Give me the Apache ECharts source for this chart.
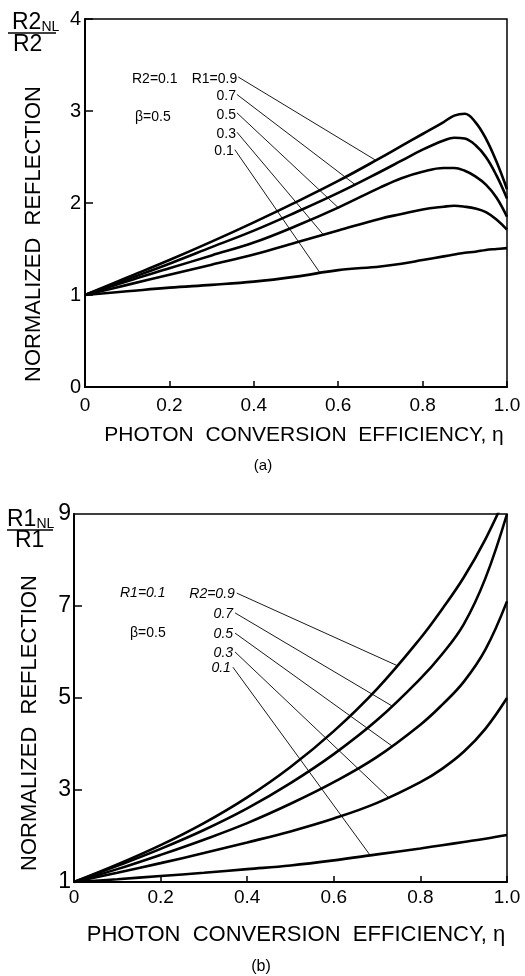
<!DOCTYPE html>
<html>
<head>
<meta charset="utf-8">
<script src="https://cdn.jsdelivr.net/npm/echarts@6/dist/echarts.min.js"></script>
<style>
html,body{margin:0;padding:0;background:#fff;}
#c{width:525px;height:976px;}
</style>
</head>
<body>
<div id="c"></div>
<script>
// ---------- DATA ----------
// (a) top panel: R2 = 0.1, beta = 0.5, curves for R1
const etaTop = [0,0.1,0.2,0.3,0.4,0.5,0.6,0.7,0.75,0.8,0.85,0.875,0.9,0.925,0.95,0.975,1.0];
const topR1_09 = [1,1.19,1.38,1.58,1.79,2.01,2.24,2.49,2.62,2.75,2.88,2.95,2.97,2.88,2.70,2.45,2.15];
const topR1_07 = [1,1.17,1.34,1.52,1.70,1.90,2.11,2.34,2.46,2.58,2.68,2.71,2.70,2.63,2.50,2.30,2.05];
const topR1_05 = [1,1.15,1.29,1.43,1.57,1.75,1.95,2.17,2.27,2.34,2.38,2.38,2.35,2.29,2.20,2.06,1.85];
const topR1_03 = [1,1.11,1.22,1.33,1.44,1.57,1.70,1.83,1.88,1.93,1.96,1.97,1.96,1.94,1.90,1.82,1.71];
const topR1_01 = [1,1.04,1.08,1.11,1.145,1.20,1.27,1.31,1.34,1.38,1.42,1.44,1.46,1.47,1.49,1.50,1.51];
const topSeries = [topR1_09, topR1_07, topR1_05, topR1_03, topR1_01];
const topLabels = ['R1=0.9','0.7','0.5','0.3','0.1'];
const topLeaders = [
  [[0.363,3.37],[0.687,2.47]],
  [[0.360,3.18],[0.640,2.20]],
  [[0.360,2.98],[0.600,1.95]],
  [[0.360,2.77],[0.564,1.66]],
  [[0.355,2.58],[0.557,1.24]]
];
// (b) bottom panel: R1 = 0.1, beta = 0.5, curves for R2
const etaBot = [0,0.1,0.2,0.3,0.4,0.5,0.6,0.7,0.8,0.85,0.9,0.95,1.0];
const botR2_09 = [1,1.38,1.80,2.28,2.84,3.50,4.28,5.20,6.30,6.93,7.62,8.45,9.45];
const botR2_07 = [1,1.35,1.72,2.13,2.60,3.15,3.78,4.52,5.42,5.95,6.60,7.60,9.00];
const botR2_05 = [1,1.28,1.59,1.92,2.28,2.70,3.17,3.72,4.42,4.85,5.35,6.05,7.10];
const botR2_03 = [1,1.20,1.41,1.63,1.86,2.10,2.38,2.72,3.17,3.46,3.83,4.33,5.00];
const botR2_01 = [1,1.06,1.13,1.20,1.28,1.36,1.47,1.60,1.73,1.80,1.87,1.94,2.02];
const botSeries = [botR2_09, botR2_07, botR2_05, botR2_03, botR2_01];
const botLabels = ['R2=0.9','0.7','0.5','0.3','0.1'];
const botLeaders = [
  [[0.376,7.28],[0.745,5.71]],
  [[0.372,6.85],[0.734,4.83]],
  [[0.372,6.41],[0.734,3.96]],
  [[0.372,6.00],[0.726,2.84]],
  [[0.367,5.67],[0.684,1.58]]
];
const xTicks = [0,0.2,0.4,0.6,0.8,1.0];
const topYTicks = [0,1,2,3,4];
const botYLabels = [1,3,5,7,9];
const botYTicks = [3,5,7];
const xTitle = 'PHOTON  CONVERSION  EFFICIENCY, η';
const yTitle = 'NORMALIZED  REFLECTION';

// ---------- CHART ----------
const FONT = '"Liberation Sans", Arial, sans-serif';
const chart = echarts.init(document.getElementById('c'), null, {renderer:'canvas'});

function zip(xs, ys){ return xs.map((x,i)=>[x,ys[i]]); }

function xAxisCfg(gi, margin){
  return {
    type:'value', gridIndex:gi, min:0, max:1, interval:0.2,
    axisLine:{show:true, onZero:false, lineStyle:{color:'#000', width:2}},
    axisTick:{show:true, inside:true, length:6, lineStyle:{color:'#000', width:1.5}},
    axisLabel:{color:'#000', fontSize:19, fontFamily:FONT, margin:margin,
      formatter:v=> v===0 ? '0' : (Math.abs(v-1)<1e-9 ? '1.0' : String(+v.toFixed(1)))},
    splitLine:{show:false}
  };
}

const series = [];
topSeries.forEach((ys,i)=>{
  series.push({type:'line', xAxisIndex:0, yAxisIndex:0, data:zip(etaTop, ys),
    smooth:0.4, showSymbol:false, lineStyle:{color:'#000', width:2.6}, silent:true, z:3});
});
topLeaders.forEach(seg=>{
  series.push({type:'line', xAxisIndex:0, yAxisIndex:0, data:seg, showSymbol:false,
    lineStyle:{color:'#000', width:0.9}, silent:true, z:2});
});
botSeries.forEach((ys,i)=>{
  series.push({type:'line', xAxisIndex:1, yAxisIndex:1, data:zip(etaBot, ys),
    smooth:0.4, showSymbol:false, lineStyle:{color:'#000', width:2.6}, silent:true, z:3, clip:true});
});
botLeaders.forEach(seg=>{
  series.push({type:'line', xAxisIndex:1, yAxisIndex:1, data:seg, showSymbol:false,
    lineStyle:{color:'#000', width:0.9}, silent:true, z:2});
});

chart.setOption({
  animation:false,
  backgroundColor:'#fff',
  grid:[
    {left:85, top:19, width:422, height:368, show:true, borderColor:'#000', borderWidth:1.5, backgroundColor:'transparent'},
    {left:74, top:514, width:433, height:368, show:true, borderColor:'#000', borderWidth:1.5, backgroundColor:'transparent'}
  ],
  xAxis:[ xAxisCfg(0, 9), xAxisCfg(1, 6) ],
  yAxis:[
    {type:'value', gridIndex:0, min:0, max:4, interval:1,
      axisLine:{show:true, onZero:false, lineStyle:{color:'#000', width:2}},
      axisTick:{show:true, inside:true, length:8, lineStyle:{color:'#000', width:1.5}},
      axisLabel:{color:'#000', fontSize:20, fontFamily:FONT, margin:4},
      splitLine:{show:false}},
    {type:'value', gridIndex:1, min:1, max:9, interval:1,
      axisLine:{show:true, onZero:false, lineStyle:{color:'#000', width:2}},
      axisTick:{show:true, inside:true, length:8, customValues:botYTicks, lineStyle:{color:'#000', width:1.5}},
      axisLabel:{color:'#000', fontSize:23, fontFamily:FONT, margin:3, customValues:botYLabels},
      splitLine:{show:false}}
  ],
  series:series
});

// ---------- TEXT ANNOTATIONS ----------
function txt(x,y,text,size,opts){
  opts = opts||{};
  return {type:'text', x:x, y:y, rotation:opts.rot||0, silent:true, z:10,
    style:{text:text, fill:'#000', fontSize:size, fontFamily:FONT,
      fontStyle:opts.italic?'italic':'normal',
      align:opts.align||'left', verticalAlign:'middle', rich:opts.rich}};
}
const g = [];
topLeaders.forEach((seg,i)=>{
  const p = chart.convertToPixel({gridIndex:0}, seg[0]);
  g.push(txt(p[0]-1, p[1]+2, topLabels[i], 14, {align:'right'}));
});
botLeaders.forEach((seg,i)=>{
  const p = chart.convertToPixel({gridIndex:1}, seg[0]);
  g.push(txt(p[0]-2, p[1]+1, botLabels[i], 14, {align:'right', italic:true}));
});
g.push(txt(132, 79, 'R2=0.1', 14));
g.push(txt(135, 117, 'β=0.5', 14));
g.push(txt(120, 593, 'R1=0.1', 14, {italic:true}));
g.push(txt(130, 633, 'β=0.5', 14));
g.push(txt(304, 435, xTitle, 21, {align:'center'}));
g.push(txt(296, 935, xTitle, 22, {align:'center'}));
g.push(txt(263, 466, '(a)', 15, {align:'center'}));
g.push(txt(261, 967, '(b)', 16, {align:'center'}));
g.push(txt(34, 234, yTitle, 22, {align:'center', rot:Math.PI/2}));
g.push(txt(30, 723, yTitle, 22, {align:'center', rot:Math.PI/2}));
const sub = {s:{fontSize:14, fontFamily:FONT, fill:'#000', verticalAlign:'bottom', padding:[6,0,0,0]}};
g.push(txt(12, 23, 'R2{s|NL}', 23, {rich:sub}));
g.push({type:'line', silent:true, shape:{x1:8, y1:33, x2:56, y2:33}, style:{stroke:'#000', lineWidth:1.5}});
g.push(txt(13, 45, 'R2', 23));
g.push(txt(7, 520, 'R1{s|NL}', 23, {rich:sub}));
g.push({type:'line', silent:true, shape:{x1:7, y1:530, x2:53, y2:530}, style:{stroke:'#000', lineWidth:1.5}});
g.push(txt(15, 541, 'R1', 23));

chart.setOption({graphic:{elements:g}});
</script>
</body>
</html>
